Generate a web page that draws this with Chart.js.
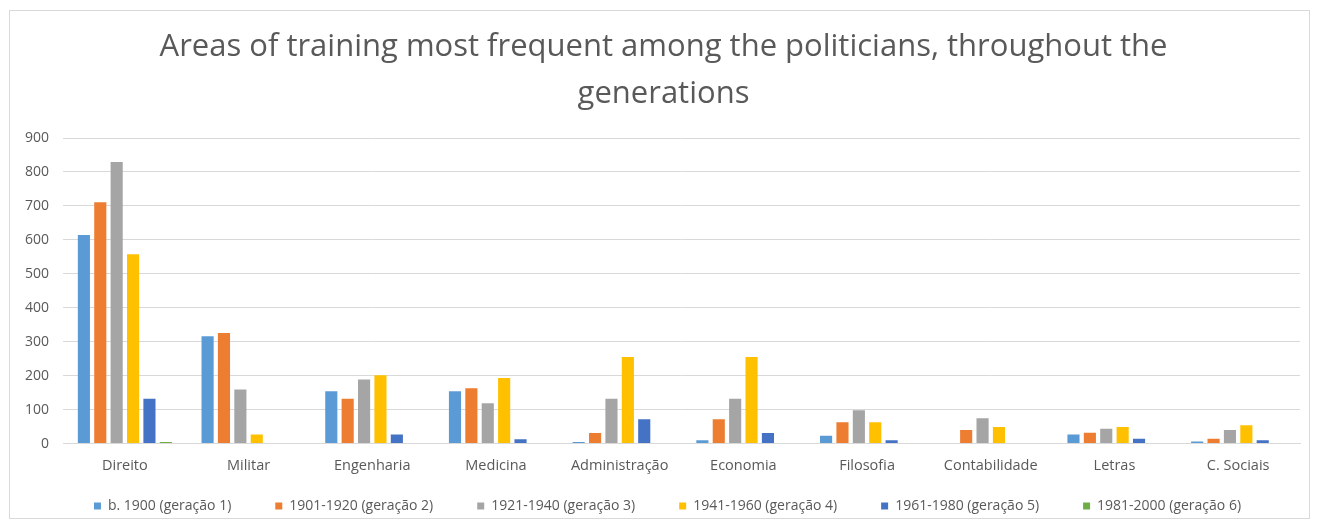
<!DOCTYPE html>
<html>
<head>
<meta charset="utf-8">
<script src="https://cdn.jsdelivr.net/npm/chart.js@4"></script>
<style>
  html, body { margin: 0; padding: 0; background: #ffffff; }
  #frame { position: absolute; left: 9px; top: 10px; width: 1301px; height: 509px; border: 1px solid #d9d9d9; box-sizing: border-box; }
  #wrap { position: absolute; left: 0; top: 0; width: 1321px; height: 529px; }
</style>
</head>
<body>
<div id="frame"></div>
<div id="wrap"><canvas id="c" width="1321" height="529"></canvas></div>
<script>
const categories = ['Direito', 'Militar', 'Engenharia', 'Medicina', 'Administração', 'Economia', 'Filosofia', 'Contabilidade', 'Letras', 'C. Sociais'];

const seriesNames = ['b. 1900 (geração 1)', '1901-1920 (geração 2)', '1921-1940 (geração 3)', '1941-1960 (geração 4)', '1961-1980 (geração 5)', '1981-2000 (geração 6)'];

const geracao1 = [614, 316, 154, 154, 5, 10, 23, 0, 27, 6];
const geracao2 = [711, 326, 132, 163, 31, 72, 63, 40, 32, 14];
const geracao3 = [829, 159, 189, 119, 132, 132, 98, 75, 44, 40];
const geracao4 = [558, 27, 201, 193, 255, 255, 63, 49, 49, 54];
const geracao5 = [132, 0, 27, 13, 72, 31, 10, 0, 14, 10];
const geracao6 = [5, 0, 0, 0, 0, 0, 0, 0, 0, 0];

const yTicks = [0, 100, 200, 300, 400, 500, 600, 700, 800, 900];

const colors = ['#5B9BD5', '#ED7D31', '#A5A5A5', '#FFC000', '#4472C4', '#70AD47'];
const seriesData = [geracao1, geracao2, geracao3, geracao4, geracao5, geracao6];

const textColor = '#595959';
const fontFamily = "'Open Sans', 'Noto Sans', sans-serif";

// Legend row sits closer to the axis labels than its item padding would allow,
// and title/legend are nudged to be centred on the frame rather than the padded box.
const LEGEND_LIFT = 26;
function offsetDraw(box, dx, dy) {
  const draw = box.draw.bind(box);
  box.draw = function (...args) {
    // widen the box upward (dy < 0) so its own clip still covers the items
    this.left += dx; this.right += dx; this.top += dy;
    draw(...args);
    this.left -= dx; this.right -= dx; this.top -= dy;
  };
}
const boxTweaks = {
  id: 'boxTweaks',
  beforeLayout(chart) {
    const lg = chart.legend;
    if (lg && !lg._tweaked) {
      lg._tweaked = true;
      const fit = lg.fit.bind(lg);
      lg.fit = function () { fit(); this.height -= LEGEND_LIFT; };
      offsetDraw(lg, 12, -LEGEND_LIFT);
    }
    const tb = chart.titleBlock;
    if (tb && !tb._tweaked) {
      tb._tweaked = true;
      offsetDraw(tb, 8, 0);
    }
  }
};

new Chart(document.getElementById('c'), {
  type: 'bar',
  data: {
    labels: categories,
    datasets: seriesData.map((d, i) => ({
      label: seriesNames[i],
      data: d,
      backgroundColor: colors[i],
      borderWidth: 0,
      categoryPercentage: 0.795,
      barPercentage: 0.74
    }))
  },
  plugins: [boxTweaks],
  options: {
    responsive: false,
    animation: false,
    devicePixelRatio: 1,
    layout: { padding: { left: 11, right: 21, top: 24, bottom: 6 } },
    plugins: {
      title: {
        display: true,
        text: ['Areas of training most frequent among the politicians, throughout the', 'generations'],
        color: textColor,
        font: { family: fontFamily, size: 31, weight: 'normal', lineHeight: 1.5 },
        padding: { top: 0, bottom: 21 }
      },
      legend: {
        position: 'bottom',
        labels: {
          color: textColor,
          font: { family: fontFamily, size: 14 },
          boxWidth: 7,
          boxHeight: 7,
          padding: 44
        }
      },
      tooltip: { enabled: false }
    },
    scales: {
      x: {
        grid: { display: false },
        border: { color: '#d9d9d9' },
        ticks: { color: textColor, font: { family: fontFamily, size: 14.5 }, padding: 6, maxRotation: 0 }
      },
      y: {
        min: 0,
        max: 900,
        afterBuildTicks: (axis) => { axis.ticks = yTicks.map(v => ({ value: v })); },
        grid: { color: '#d9d9d9', drawTicks: false },
        border: { display: false },
        ticks: { color: textColor, font: { family: fontFamily, size: 14 }, padding: 14 }
      }
    }
  }
});
</script>
</body>
</html>
